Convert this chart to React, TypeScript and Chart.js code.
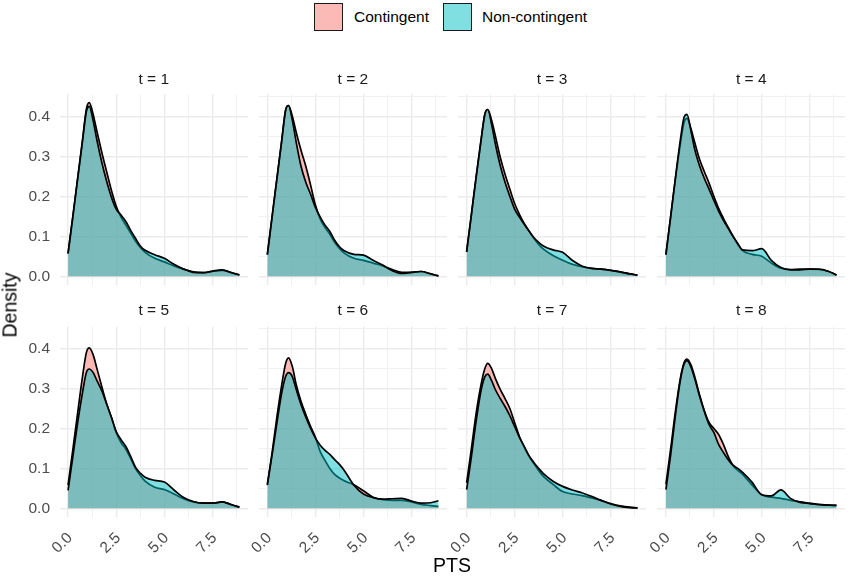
import React, { useEffect, useRef } from "react";
import { Chart, registerables } from "chart.js";

Chart.register(...registerables);

// ---- data ----
const PTS_GRID = [0, 0.25, 0.5, 0.75, 0.95, 1.1, 1.3, 1.5, 1.75, 2, 2.25, 2.5, 2.75, 3, 3.25, 3.5, 3.75, 4, 4.5, 5, 5.5, 6, 6.5, 7, 7.5, 8, 8.5, 8.9];
const PANEL_LABELS = ["t = 1", "t = 2", "t = 3", "t = 4", "t = 5", "t = 6", "t = 7", "t = 8"];
const SERIES_NAMES = ["Contingent", "Non-contingent"];

const CONT_T1 = [0.057, 0.15, 0.245, 0.34, 0.418, 0.434, 0.405, 0.362, 0.31, 0.262, 0.215, 0.175, 0.148, 0.128, 0.108, 0.088, 0.072, 0.06, 0.045, 0.036, 0.026, 0.018, 0.011, 0.009, 0.012, 0.015, 0.009, 0.004];
const NONC_T1 = [0.057, 0.15, 0.245, 0.338, 0.412, 0.425, 0.39, 0.34, 0.285, 0.238, 0.198, 0.168, 0.153, 0.137, 0.115, 0.095, 0.076, 0.065, 0.054, 0.045, 0.03, 0.018, 0.01, 0.009, 0.013, 0.016, 0.009, 0.003];
const CONT_T2 = [0.054, 0.15, 0.245, 0.34, 0.415, 0.427, 0.4, 0.36, 0.315, 0.275, 0.228, 0.178, 0.143, 0.122, 0.105, 0.085, 0.07, 0.058, 0.045, 0.04, 0.033, 0.026, 0.017, 0.01, 0.01, 0.012, 0.006, 0.001];
const NONC_T2 = [0.054, 0.15, 0.245, 0.34, 0.415, 0.427, 0.39, 0.335, 0.275, 0.235, 0.205, 0.172, 0.148, 0.128, 0.112, 0.09, 0.074, 0.064, 0.055, 0.053, 0.04, 0.028, 0.014, 0.007, 0.01, 0.012, 0.006, 0.001];
const CONT_T3 = [0.061, 0.155, 0.25, 0.34, 0.405, 0.417, 0.39, 0.35, 0.298, 0.255, 0.218, 0.182, 0.155, 0.132, 0.113, 0.095, 0.08, 0.068, 0.052, 0.04, 0.03, 0.024, 0.02, 0.018, 0.015, 0.011, 0.006, 0.003];
const NONC_T3 = [0.061, 0.155, 0.25, 0.34, 0.405, 0.417, 0.38, 0.33, 0.277, 0.235, 0.2, 0.168, 0.148, 0.13, 0.113, 0.097, 0.085, 0.076, 0.066, 0.06, 0.04, 0.026, 0.02, 0.018, 0.015, 0.011, 0.006, 0.003];
const CONT_T4 = [0.054, 0.15, 0.245, 0.33, 0.385, 0.395, 0.37, 0.335, 0.293, 0.262, 0.233, 0.2, 0.17, 0.145, 0.122, 0.1, 0.08, 0.064, 0.055, 0.05, 0.033, 0.02, 0.017, 0.018, 0.018, 0.017, 0.012, 0.003];
const NONC_T4 = [0.054, 0.15, 0.248, 0.34, 0.398, 0.405, 0.365, 0.318, 0.277, 0.245, 0.218, 0.19, 0.163, 0.14, 0.12, 0.1, 0.082, 0.066, 0.064, 0.069, 0.04, 0.022, 0.016, 0.016, 0.018, 0.018, 0.012, 0.003];
const CONT_T5 = [0.058, 0.148, 0.24, 0.33, 0.39, 0.402, 0.385, 0.35, 0.305, 0.262, 0.228, 0.19, 0.165, 0.148, 0.125, 0.1, 0.082, 0.068, 0.053, 0.047, 0.036, 0.024, 0.016, 0.013, 0.013, 0.016, 0.009, 0.003];
const NONC_T5 = [0.045, 0.13, 0.215, 0.29, 0.34, 0.349, 0.34, 0.32, 0.295, 0.262, 0.228, 0.192, 0.172, 0.155, 0.13, 0.103, 0.088, 0.078, 0.07, 0.066, 0.046, 0.027, 0.017, 0.013, 0.013, 0.016, 0.009, 0.003];
const CONT_T6 = [0.06, 0.14, 0.23, 0.31, 0.363, 0.377, 0.355, 0.31, 0.268, 0.235, 0.205, 0.178, 0.142, 0.12, 0.1, 0.085, 0.076, 0.069, 0.059, 0.044, 0.028, 0.022, 0.02, 0.02, 0.016, 0.01, 0.007, 0.005];
const NONC_T6 = [0.058, 0.135, 0.215, 0.29, 0.33, 0.34, 0.33, 0.298, 0.26, 0.228, 0.2, 0.176, 0.158, 0.145, 0.135, 0.122, 0.11, 0.095, 0.058, 0.036, 0.027, 0.023, 0.024, 0.025, 0.018, 0.013, 0.014, 0.019];
const CONT_T7 = [0.064, 0.15, 0.24, 0.31, 0.35, 0.363, 0.35, 0.325, 0.298, 0.275, 0.25, 0.215, 0.18, 0.153, 0.13, 0.112, 0.095, 0.08, 0.06, 0.042, 0.036, 0.032, 0.026, 0.02, 0.012, 0.006, 0.003, 0.001];
const NONC_T7 = [0.047, 0.13, 0.22, 0.295, 0.33, 0.336, 0.32, 0.297, 0.275, 0.255, 0.232, 0.205, 0.178, 0.155, 0.132, 0.115, 0.1, 0.087, 0.068, 0.055, 0.046, 0.039, 0.03, 0.02, 0.011, 0.005, 0.002, 0.001];
const CONT_T8 = [0.06, 0.15, 0.245, 0.325, 0.365, 0.374, 0.36, 0.33, 0.285, 0.245, 0.215, 0.2, 0.185, 0.16, 0.13, 0.107, 0.095, 0.085, 0.058, 0.034, 0.028, 0.025, 0.02, 0.016, 0.013, 0.01, 0.008, 0.0075];
const NONC_T8 = [0.047, 0.135, 0.235, 0.32, 0.362, 0.37, 0.355, 0.325, 0.282, 0.243, 0.21, 0.19, 0.16, 0.14, 0.122, 0.108, 0.1, 0.09, 0.065, 0.034, 0.031, 0.046, 0.025, 0.015, 0.012, 0.009, 0.008, 0.0075];

const CONTINGENT = [CONT_T1, CONT_T2, CONT_T3, CONT_T4, CONT_T5, CONT_T6, CONT_T7, CONT_T8];
const NONCONTINGENT = [NONC_T1, NONC_T2, NONC_T3, NONC_T4, NONC_T5, NONC_T6, NONC_T7, NONC_T8];

const X_TICKS = [0, 1.25, 2.5, 3.75, 5, 6.25, 7.5, 8.75];
const Y_TICKS = [0, 0.05, 0.1, 0.15, 0.2, 0.25, 0.3, 0.35, 0.4, 0.45];
const X_RANGE = [-0.445, 9.345];
const Y_RANGE = [-0.0217, 0.4557];

// ---- layout / style ----
const FONT = "'Liberation Sans', Arial, Helvetica, sans-serif";
const COL_LEFT = [59.5, 258.8, 458.1, 657.4];
const PLOT_W = 188;
const ROW_TOP = [94, 326.4];
const PLOT_H = 190.7;
const STRIP_Y = [79.5, 311];
const PINK = "rgba(248,118,109,0.5)";
const TEAL = "rgba(0,191,196,0.5)";
const EXTRA_RIGHT = 15;

const isMajorX = (v: number) => Math.abs(v / 2.5 - Math.round(v / 2.5)) < 1e-6;
const isMajorY = (v: number) => Math.abs(v * 10 - Math.round(v * 10)) < 1e-6;

function Panel({ idx }: { idx: number }) {
  const ref = useRef<HTMLCanvasElement>(null);
  const r = Math.floor(idx / 4);
  const c = idx % 4;
  const plotLeft = COL_LEFT[c];
  const plotTop = ROW_TOP[r];
  const canvasLeft = c === 0 ? 0 : Math.floor(plotLeft) - 20;
  const lw = plotLeft - canvasLeft;
  const canvasTop = Math.floor(plotTop - 30);
  const tb = plotTop - canvasTop;
  const xh = r === 1 ? 50 : 22;
  const plotRight = Math.round(plotLeft + PLOT_W);
  const width = plotRight - canvasLeft + EXTRA_RIGHT;
  const plotBottom = Math.round(plotTop + PLOT_H);
  const height = plotBottom + xh - canvasTop;
  const stripY = STRIP_Y[r] - canvasTop;

  useEffect(() => {
    const canvas = ref.current!;
    const stripPlugin = {
      id: "strip",
      afterDraw(chart: any) {
        const { ctx, chartArea } = chart;
        ctx.save();
        ctx.font = `15.5px ${FONT}`;
        ctx.fillStyle = "#1A1A1A";
        ctx.textAlign = "center";
        ctx.textBaseline = "middle";
        ctx.fillText(PANEL_LABELS[idx], (chartArea.left + chartArea.right) / 2, stripY);
        ctx.restore();
      },
    };
    const chart = new Chart(canvas, {
      type: "line",
      data: {
        datasets: [
          {
            label: SERIES_NAMES[1],
            data: PTS_GRID.map((x, i) => ({ x, y: NONCONTINGENT[idx][i] })),
            borderColor: "#000000",
            borderWidth: 1.7,
            backgroundColor: TEAL,
            fill: "origin",
            pointRadius: 0,
            cubicInterpolationMode: "monotone",
            order: 0,
          },
          {
            label: SERIES_NAMES[0],
            data: PTS_GRID.map((x, i) => ({ x, y: CONTINGENT[idx][i] })),
            borderColor: "#000000",
            borderWidth: 1.7,
            backgroundColor: PINK,
            fill: "origin",
            pointRadius: 0,
            cubicInterpolationMode: "monotone",
            order: 1,
          },
        ],
      },
      options: {
        responsive: false,
        animation: false,
        events: [],
        layout: { autoPadding: false, padding: { top: tb, left: 0, right: EXTRA_RIGHT, bottom: 0 } },
        plugins: { legend: { display: false }, tooltip: { enabled: false }, title: { display: false } },
        scales: {
          x: {
            type: "linear",
            min: X_RANGE[0],
            max: X_RANGE[1],
            afterBuildTicks: (s: any) => {
              s.ticks = X_TICKS.map((v) => ({ value: v }));
            },
            afterFit: (s: any) => {
              s.height = xh;
            },
            border: { display: false },
            grid: {
              drawTicks: false,
              color: (ctx: any) => (isMajorX(ctx.tick.value) ? "#EBEBEB" : "#F1F1F1"),
              lineWidth: (ctx: any) => (isMajorX(ctx.tick.value) ? 1.4 : 1),
            },
            ticks: {
              display: r === 1,
              autoSkip: false,
              minRotation: 45,
              maxRotation: 45,
              padding: 12,
              labelOffset: 2,
              color: "#4D4D4D",
              font: { family: FONT, size: 15.5 },
              callback: (v: any) => (isMajorX(Number(v)) ? Number(v).toFixed(1) : ""),
            },
          },
          y: {
            type: "linear",
            min: Y_RANGE[0],
            max: Y_RANGE[1],
            afterBuildTicks: (s: any) => {
              s.ticks = Y_TICKS.map((v) => ({ value: v }));
            },
            afterFit: (s: any) => {
              s.width = lw;
            },
            border: { display: false },
            grid: {
              drawTicks: false,
              color: (ctx: any) => (isMajorY(ctx.tick.value) ? "#EBEBEB" : "#F1F1F1"),
              lineWidth: (ctx: any) => (isMajorY(ctx.tick.value) ? 1.4 : 1),
            },
            ticks: {
              display: c === 0,
              padding: 9.5,
              color: "#4D4D4D",
              font: { family: FONT, size: 15.5 },
              callback: (v: any) => (isMajorY(Number(v)) ? Number(v).toFixed(1) : ""),
            },
          },
        },
      },
      plugins: [stripPlugin],
    } as any);
    return () => chart.destroy();
  }, [idx]);

  return (
    <canvas
      ref={ref}
      width={width}
      height={height}
      style={{ position: "absolute", left: canvasLeft, top: canvasTop, width, height }}
    />
  );
}

export default function App() {
  const legendItem = (left: number, textLeft: number, fill: string, text: string) => (
    <React.Fragment key={text}>
      <div
        style={{
          position: "absolute",
          left,
          top: 3,
          width: 29,
          height: 28,
          boxSizing: "border-box",
          border: "1.5px solid #1A1A1A",
          background: fill,
        }}
      />
      <div
        style={{
          position: "absolute",
          left: textLeft,
          top: 17,
          transform: "translateY(-50%)",
          fontFamily: FONT,
          fontSize: 15.5,
          color: "#000",
          whiteSpace: "nowrap",
        }}
      >
        {text}
      </div>
    </React.Fragment>
  );
  return (
    <div style={{ position: "absolute", left: 0, top: 0, width: 848, height: 576, background: "#fff", overflow: "hidden" }}>
      {legendItem(314, 354, PINK, SERIES_NAMES[0])}
      {legendItem(443, 482, TEAL, SERIES_NAMES[1])}
      {Array.from({ length: 8 }, (_, i) => (
        <Panel key={i} idx={i} />
      ))}
      <div
        style={{
          position: "absolute",
          left: 9.5,
          top: 305,
          transform: "translate(-50%, -50%) rotate(-90deg)",
          fontFamily: FONT,
          fontSize: 19.5,
          color: "#000",
          whiteSpace: "nowrap",
        }}
      >
        Density
      </div>
      <div
        style={{
          position: "absolute",
          left: 452,
          top: 565,
          transform: "translate(-50%, -50%)",
          fontFamily: FONT,
          fontSize: 19.5,
          color: "#000",
          whiteSpace: "nowrap",
        }}
      >
        PTS
      </div>
    </div>
  );
}
